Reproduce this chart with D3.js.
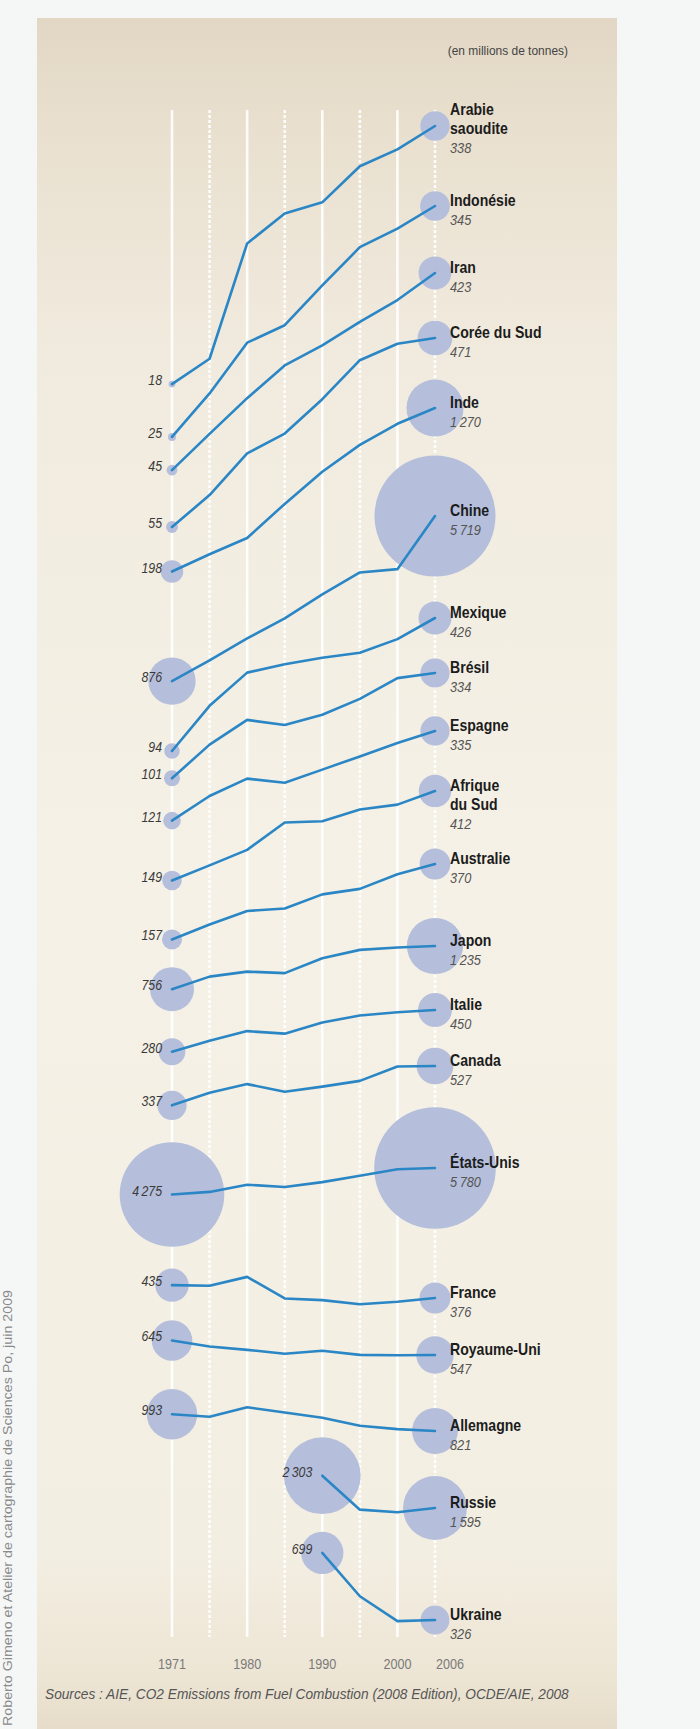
<!DOCTYPE html>
<html>
<head>
<meta charset="utf-8">
<script src="https://cdn.jsdelivr.net/npm/d3@7"></script>
<style>
  html, body { margin: 0; padding: 0; background: #f5f7f7; }
  svg { display: block; }
  text { font-family: "Liberation Sans", Arial, sans-serif; }
</style>
</head>
<body>
<script>
// ---------------- DATA (millions de tonnes de CO2) ----------------
const years = ["1971", "1975", "1980", "1985", "1990", "1995", "2000", "2006"];
const yearTickLabels = ["1971", "1980", "1990", "2000", "2006"];

const countryNames = [
  "Arabie saoudite", "Indonésie", "Iran", "Corée du Sud", "Inde", "Chine",
  "Mexique", "Brésil", "Espagne", "Afrique du Sud", "Australie", "Japon",
  "Italie", "Canada", "États-Unis", "France", "Royaume-Uni", "Allemagne",
  "Russie", "Ukraine"
];
const countryLabelLines = [
  ["Arabie", "saoudite"], ["Indonésie"], ["Iran"], ["Corée du Sud"], ["Inde"], ["Chine"],
  ["Mexique"], ["Brésil"], ["Espagne"], ["Afrique", "du Sud"], ["Australie"], ["Japon"],
  ["Italie"], ["Canada"], ["États-Unis"], ["France"], ["Royaume-Uni"], ["Allemagne"],
  ["Russie"], ["Ukraine"]
];

const arabieSaoudite = [18, 24, 89, 125, 142, 214, 259, 338];
const indonesie      = [25, 41, 73, 89, 140, 216, 267, 345];
const iran           = [45, 68, 102, 148, 186, 243, 311, 423];
const coreeDuSud     = [55, 79, 127, 159, 235, 366, 441, 471];
const inde           = [198, 241, 290, 427, 615, 835, 1061, 1270];
const chine          = [876, 1108, 1423, 1786, 2346, 3012, 3127, 5719];
const mexique        = [94, 157, 229, 252, 271, 287, 335, 426];
const bresil         = [101, 148, 196, 185, 208, 249, 315, 334];
const espagne        = [121, 160, 195, 186, 216, 251, 292, 335];
const afriqueDuSud   = [149, 177, 211, 288, 292, 334, 353, 412];
const australie      = [157, 186, 217, 223, 262, 279, 329, 370];
const japon          = [756, 872, 923, 907, 1075, 1182, 1215, 1235];
const italie         = [280, 317, 354, 344, 390, 423, 439, 450];
const canada         = [337, 389, 429, 393, 417, 445, 524, 527];
const etatsUnis      = [4275, 4405, 4778, 4657, 4924, 5296, 5700, 5780];
const france         = [435, 432, 478, 374, 367, 350, 360, 376];
const royaumeUni     = [645, 603, 580, 555, 574, 548, 545, 547];
const allemagne      = [993, 966, 1075, 1013, 955, 872, 839, 821];
const russie         = [null, null, null, null, 2303, 1565, 1519, 1595];
const ukraine        = [null, null, null, null, 699, 427, 322, 326];

const seriesValues = [
  arabieSaoudite, indonesie, iran, coreeDuSud, inde, chine, mexique, bresil,
  espagne, afriqueDuSud, australie, japon, italie, canada, etatsUnis, france,
  royaumeUni, allemagne, russie, ukraine
];

const unitLabel = "(en millions de tonnes)";
const sourceLabel = "Sources : AIE, CO2 Emissions from Fuel Combustion (2008 Edition), OCDE/AIE, 2008";
const creditLabel = "Roberto Gimeno et Atelier de cartographie de Sciences Po, juin 2009";

// ---------------- LAYOUT ----------------
const W = 700, H = 1729;
// vertical anchor (pixel row) of the 2006 end point of every country line
const rowAnchor = [126, 206, 273, 338, 408, 516, 618, 673, 731, 791, 864, 946,
                   1010, 1066, 1168, 1298, 1355, 1431, 1508, 1620];
const labelShift = [-11, 0, 0, 0, 0, 0, 0, 0, 0, 0, 0, 0, 0, 0, 0, 0, 0, 0, 0, 0];
const PX_PER_LN = 88;

const svg = d3.select("body").append("svg").attr("width", W).attr("height", H);

const defs = svg.append("defs");
const grad = defs.append("linearGradient").attr("id", "panelGrad")
  .attr("x1", 0).attr("y1", 0).attr("x2", 0).attr("y2", 1);
[[0, "#e2d7c4"], [0.07, "#e9e0cf"], [0.2, "#f1ebdf"], [0.5, "#f5f1e6"],
 [0.9, "#f3eee2"], [0.97, "#ede5d4"], [1, "#e6dcc9"]].forEach(([o, c]) =>
  grad.append("stop").attr("offset", o).attr("stop-color", c));

svg.append("rect").attr("width", W).attr("height", H).attr("fill", "#f5f7f7");
svg.append("rect").attr("x", 37).attr("y", 18).attr("width", 580).attr("height", H - 18)
  .attr("fill", "url(#panelGrad)");

const x = d3.scalePoint().domain(years).range([172, 435]);
const logY = d3.scaleLog().domain([1, 10]).range([0, -PX_PER_LN * Math.LN10]);
const r = d3.scaleSqrt().domain([0, 6000]).range([0, 0.8 * Math.sqrt(6000)]);

const fr = d3.formatLocale({decimal: ",", thousands: "\u2009", grouping: [3], currency: ["", " €"]});
const fmt = fr.format(",d");

function ctext(g, px, py, str, o) {
  return g.append("text")
    .attr("transform", `translate(${px},${py}) scale(${o.sx || 1},1)`)
    .attr("text-anchor", o.anchor || "start")
    .attr("font-size", o.size)
    .attr("font-weight", o.weight || "normal")
    .attr("font-style", o.style || "normal")
    .attr("fill", o.fill || "#222")
    .text(str);
}

// grid
const grid = svg.append("g");
years.forEach((yr, i) => {
  grid.append("line")
    .attr("x1", x(yr)).attr("x2", x(yr))
    .attr("y1", 110).attr("y2", 1637)
    .attr("stroke", "#ffffff").attr("stroke-opacity", 0.9)
    .attr("stroke-width", 2.6)
    .attr("stroke-dasharray", i % 2 ? "3,2" : null);
});

// build country points
const countries = countryNames.map((name, ci) => {
  const vals = seriesValues[ci];
  const pts = years.map((yr, i) => ({yr, v: vals[i]})).filter(d => d.v != null);
  const last = pts[pts.length - 1].v;
  const yOf = v => rowAnchor[ci] + logY(v) - logY(last);
  pts.forEach(p => { p.x = x(p.yr); p.y = yOf(p.v); });
  return {name, ci, pts};
});

// circles
const circles = svg.append("g");
countries.forEach(c => {
  const a = c.pts[0], b = c.pts[c.pts.length - 1];
  [a, b].forEach(p => circles.append("circle")
    .attr("cx", p.x).attr("cy", p.y).attr("r", r(p.v))
    .attr("fill", "#b5bfdc"));
});

// lines
const line = d3.line().x(d => d.x).y(d => d.y);
const lines = svg.append("g");
countries.forEach(c => {
  lines.append("path").attr("d", line(c.pts))
    .attr("fill", "none").attr("stroke", "#2b86c5")
    .attr("stroke-width", 2.6).attr("stroke-linejoin", "round").attr("stroke-linecap", "round");
});

// labels
const labels = svg.append("g");
countries.forEach(c => {
  const a = c.pts[0], b = c.pts[c.pts.length - 1];
  ctext(labels, a.x - 10, a.y + 1, fmt(a.v), {size: 14, style: "italic", fill: "#3a3a3a", anchor: "end", sx: 0.88});
  const nl = countryLabelLines[c.ci];
  const base = b.y - 6 + labelShift[c.ci];
  nl.forEach((t, i) => ctext(labels, 450, base + 19 * i + 5.5, t, {size: 16, weight: "bold", fill: "#1c1c1c", sx: 0.88}));
  ctext(labels, 450, base + 19 * (nl.length - 1) + 20 + 5, fmt(b.v), {size: 14.5, style: "italic", fill: "#555", sx: 0.88});
});

// unit
ctext(svg, 568, 55, unitLabel, {size: 13, fill: "#444", anchor: "end", sx: 0.92});

// year axis
const axisG = svg.append("g");
yearTickLabels.forEach(yr => {
  const last = yr === years[years.length - 1];
  ctext(axisG, last ? x(yr) + 1 : x(yr), 1669, yr,
        {size: 14, fill: "#7a7a7a", anchor: last ? "start" : "middle", sx: 0.9});
});

// sources
ctext(svg, 45, 1699, sourceLabel, {size: 14.5, style: "italic", fill: "#555", sx: 0.945});

// credit
svg.append("text")
  .attr("transform", "translate(12,1726) rotate(-90)")
  .attr("font-size", 13).attr("fill", "#8a8a8a")
  .attr("textLength", 436).attr("lengthAdjust", "spacingAndGlyphs")
  .text(creditLabel);
</script>
</body>
</html>
